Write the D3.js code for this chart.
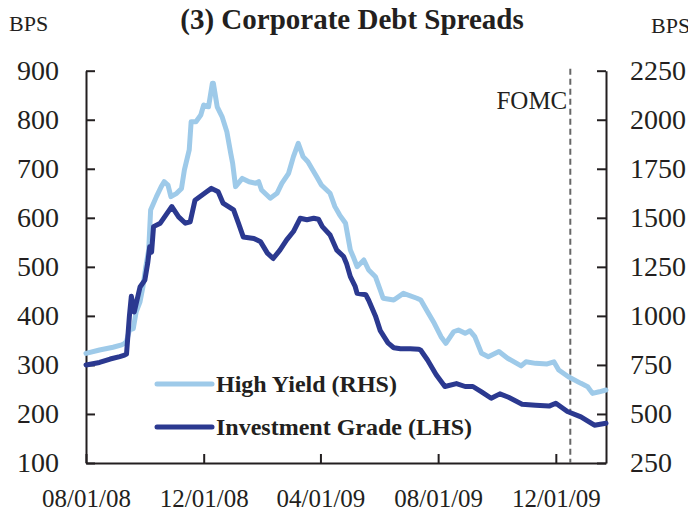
<!DOCTYPE html>
<html>
<head>
<meta charset="utf-8">
<script src="https://cdn.jsdelivr.net/npm/d3@7"></script>
<style>
  body { margin: 0; background: #fff; }
  text { font-family: "Liberation Serif", "Times New Roman", serif; fill: #231f20; }
</style>
</head>
<body>
<div id="chart"></div>
<script>
// investment grade spread, bps (left axis)
var igDates = ["2008-08-01","2008-08-15","2008-08-26","2008-09-05","2008-09-10","2008-09-12","2008-09-15","2008-09-17","2008-09-20","2008-09-26",
  "2008-10-01","2008-10-04","2008-10-06","2008-10-08","2008-10-10","2008-10-17","2008-10-24","2008-10-29","2008-11-05","2008-11-12",
  "2008-11-17","2008-11-22","2008-12-04","2008-12-09","2008-12-16","2008-12-21","2009-01-01","2009-01-06","2009-01-11","2009-01-22",
  "2009-01-29","2009-02-05","2009-02-11","2009-02-18","2009-02-25","2009-03-04","2009-03-11","2009-03-18","2009-03-25","2009-03-30",
  "2009-04-03","2009-04-11","2009-04-18","2009-04-25","2009-04-28","2009-05-02","2009-05-07","2009-05-09","2009-05-18","2009-05-21",
  "2009-05-28","2009-06-02","2009-06-10","2009-06-16","2009-06-23","2009-07-03","2009-07-12","2009-07-14","2009-07-21","2009-07-30",
  "2009-08-08","2009-08-20","2009-08-29","2009-09-06","2009-09-15","2009-09-25","2009-10-04","2009-10-13","2009-10-27","2009-11-10",
  "2009-11-24","2009-12-01","2009-12-13","2009-12-27","2010-01-10","2010-01-22"];
var igValues = [300,305,312,317,320,322,400,440,408,459,
  473,508,541,530,582,589,609,623,602,589,
  592,636,653,660,653,630,616,589,561,558,
  551,528,517,534,555,572,599,596,599,597,
  582,565,534,521,507,480,460,446,443,432,
  400,370,345,335,333,333,332,330,310,280,
  256,262,256,256,245,232,241,234,220,218,
  216,222,205,194,177,181];

// high yield spread, bps (right axis)
var hyDates = ["2008-08-01","2008-08-15","2008-08-29","2008-09-07","2008-09-10","2008-09-12","2008-09-15","2008-09-19","2008-09-22","2008-09-26",
  "2008-09-29","2008-10-02","2008-10-05","2008-10-07","2008-10-13","2008-10-18","2008-10-21","2008-10-25","2008-10-28","2008-11-03",
  "2008-11-08","2008-11-11","2008-11-16","2008-11-18","2008-11-23","2008-11-28","2008-12-01","2008-12-06","2008-12-10","2008-12-11",
  "2008-12-15","2008-12-20","2008-12-25","2008-12-29","2008-12-31","2009-01-03","2009-01-10","2009-01-17","2009-01-24","2009-01-27",
  "2009-01-30","2009-02-08","2009-02-15","2009-02-20","2009-02-27","2009-03-04","2009-03-09","2009-03-14","2009-03-19","2009-03-24",
  "2009-03-28","2009-04-02","2009-04-11","2009-04-16","2009-04-21","2009-04-27","2009-05-02","2009-05-05","2009-05-09","2009-05-16",
  "2009-05-21","2009-05-28","2009-06-02","2009-06-05","2009-06-16","2009-06-26","2009-07-10","2009-07-14","2009-07-21","2009-07-28",
  "2009-08-04","2009-08-09","2009-08-17","2009-08-22","2009-08-29","2009-09-03","2009-09-08","2009-09-15","2009-09-22","2009-10-03",
  "2009-10-12","2009-10-26","2009-10-31","2009-11-10","2009-11-22","2009-11-29","2009-12-04","2009-12-14","2009-12-27","2010-01-03",
  "2010-01-08","2010-01-15","2010-01-22"];
var hyValues = [809,826,840,852,860,870,928,935,1021,1072,
  1149,1251,1336,1540,1608,1659,1684,1667,1608,1625,
  1650,1744,1846,1990,1990,2024,2075,2066,2186,2186,
  2066,2016,1939,1829,1778,1659,1701,1684,1676,1684,
  1642,1600,1625,1676,1727,1812,1880,1812,1786,1744,
  1710,1667,1625,1557,1514,1472,1336,1302,1251,1285,
  1234,1200,1132,1090,1081,1115,1090,1081,1021,962,
  894,860,919,928,911,924,894,809,792,818,
  784,745,766,758,755,766,724,690,656,639,
  605,613,622];

var xTickDates = ["2008-08-01","2008-12-01","2009-04-01","2009-08-01","2009-12-01"];
var leftTicks = [100,200,300,400,500,600,700,800,900];
var rightTicks = [250,500,750,1000,1250,1500,1750,2000,2250];
var fomcDate = "2009-12-16";
var xDomain = ["2008-08-01","2010-01-22"];
var seriesNames = ["High Yield (RHS)", "Investment Grade (LHS)"];

const width = 688;
const height = 518;
const plotLeft = 86, plotRight = 606, plotTop = 70.7, plotBottom = 463;

var parse = d3.timeParse("%Y-%m-%d");
var fmt = d3.timeFormat("%m/%d/%y");

var svg = d3.select("#chart").append("svg")
    .attr("width", width)
    .attr("height", height);

var x = d3.scaleTime().domain(xDomain.map(parse)).range([plotLeft, plotRight]);
var yL = d3.scaleLinear().domain([100, 900]).range([plotBottom, plotTop]);
var yR = d3.scaleLinear().domain([250, 2250]).range([plotBottom, plotTop]);

// axes, ticks point inward
var xAxis = d3.axisBottom(x)
    .tickValues(xTickDates.map(parse))
    .tickFormat(fmt)
    .tickSize(-9)
    .tickSizeOuter(0)
    .tickPadding(26);
var leftAxis = d3.axisLeft(yL).tickValues(leftTicks).tickFormat(d3.format("d"))
    .tickSize(-9).tickSizeOuter(0).tickPadding(27);
var rightAxis = d3.axisRight(yR).tickValues(rightTicks).tickFormat(d3.format("d"))
    .tickSize(-9).tickSizeOuter(0).tickPadding(24);

function styleAxis(g, size) {
    g.select(".domain").attr("stroke", "#231f20").attr("stroke-width", 2);
    g.selectAll(".tick line").attr("stroke", "#231f20").attr("stroke-width", 2);
    g.selectAll(".tick text")
        .style("font-family", "'Liberation Serif', serif")
        .style("font-size", size + "px")
        .attr("fill", "#231f20");
}

svg.append("g").attr("transform", "translate(0," + plotBottom + ")").call(xAxis).call(styleAxis, 25);
svg.append("g").attr("transform", "translate(" + plotLeft + ",0)").call(leftAxis).call(styleAxis, 28);
svg.append("g").attr("transform", "translate(" + plotRight + ",0)").call(rightAxis).call(styleAxis, 28);

// FOMC marker
svg.append("line")
    .attr("x1", x(parse(fomcDate))).attr("x2", x(parse(fomcDate)))
    .attr("y1", plotTop - 2).attr("y2", plotBottom)
    .attr("stroke", "#666").attr("stroke-width", 2)
    .attr("stroke-dasharray", "6,4");
svg.append("text")
    .attr("x", x(parse(fomcDate)) - 3).attr("y", 109)
    .attr("text-anchor", "end")
    .style("font-size", "25px")
    .text("FOMC");

// lines
var hyLine = d3.line().x(function(d) { return x(d[0]); }).y(function(d) { return yR(d[1]); });
var igLine = d3.line().x(function(d) { return x(d[0]); }).y(function(d) { return yL(d[1]); });

svg.append("path")
    .attr("d", hyLine(d3.zip(hyDates.map(parse), hyValues)))
    .attr("fill", "none").attr("stroke", "#9ecae9").attr("stroke-width", 5)
    .attr("stroke-linejoin", "round").attr("stroke-linecap", "round");
svg.append("path")
    .attr("d", igLine(d3.zip(igDates.map(parse), igValues)))
    .attr("fill", "none").attr("stroke", "#2b3990").attr("stroke-width", 5)
    .attr("stroke-linejoin", "round").attr("stroke-linecap", "round");

// title and unit labels
svg.append("text").attr("x", 352).attr("y", 29).attr("text-anchor", "middle")
    .style("font-size", "29px").style("font-weight", "bold")
    .text("(3) Corporate Debt Spreads");
svg.append("text").attr("x", 9).attr("y", 31).style("font-size", "22px").text("BPS");
svg.append("text").attr("x", 651).attr("y", 33).style("font-size", "22px").text("BPS");

// legend
var legendColors = ["#9ecae9", "#2b3990"];
var legend = svg.selectAll(".legend").data(seriesNames).enter().append("g")
    .attr("class", "legend")
    .attr("transform", function(d, i) { return "translate(157," + (384 + i * 43) + ")"; });
legend.append("line").attr("x1", 0).attr("x2", 55)
    .attr("stroke", function(d, i) { return legendColors[i]; })
    .attr("stroke-width", 5).attr("stroke-linecap", "round");
legend.append("text").attr("x", 59).attr("y", 8)
    .style("font-size", "24px").style("font-weight", "bold")
    .text(function(d) { return d; });
</script>
</body>
</html>
